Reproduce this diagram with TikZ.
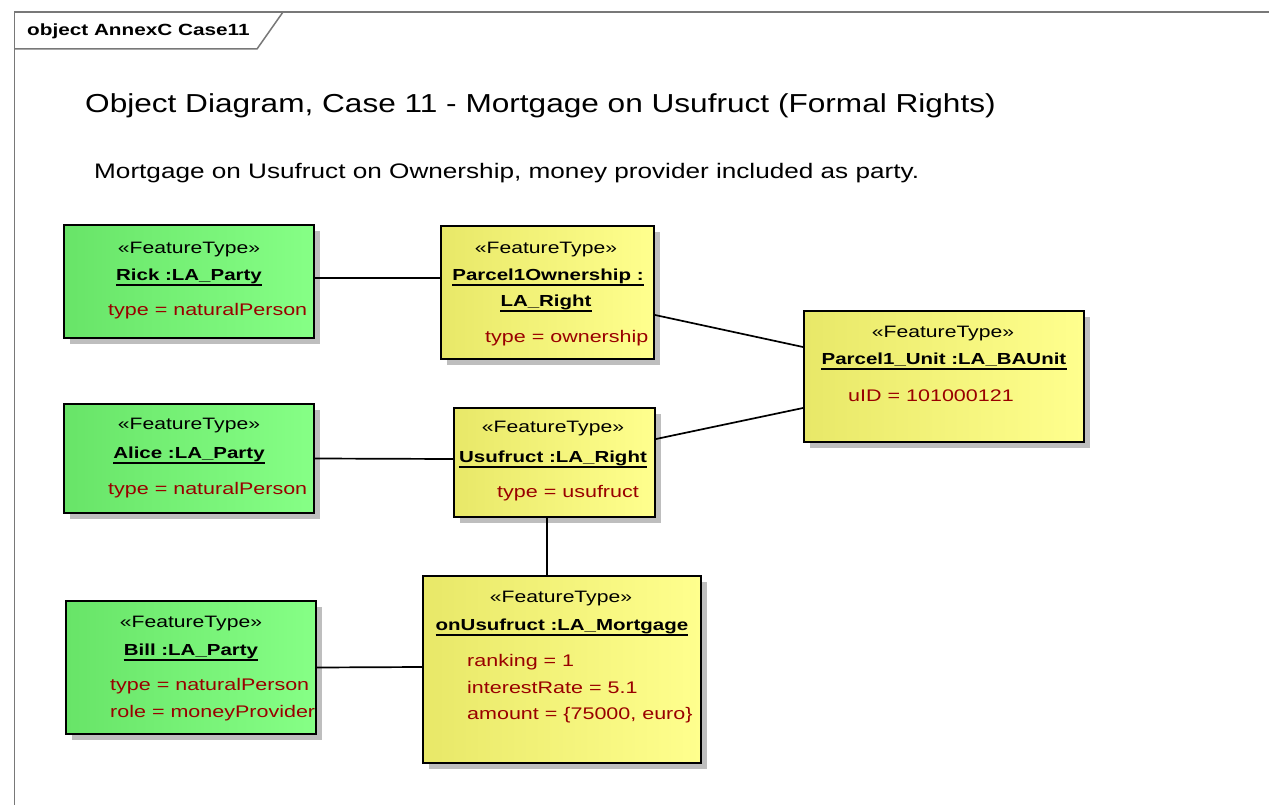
\documentclass[tikz,border=0pt]{standalone}
\usepackage{fontspec}
\setmainfont{Liberation Sans}
\usetikzlibrary{shadows}
\definecolor{attrred}{RGB}{153,0,0}
\definecolor{grnL}{RGB}{104,228,104}
\definecolor{grnM}{RGB}{124,250,124}
\definecolor{grnR}{RGB}{134,255,134}
\definecolor{ylwL}{RGB}{232,232,104}
\definecolor{ylwM}{RGB}{250,250,128}
\definecolor{ylwR}{RGB}{255,255,142}
\definecolor{framegray}{RGB}{120,120,120}
\definecolor{shadowgray}{RGB}{190,190,190}
% horizontally widened text
\newcommand\wx[1]{\scalebox{1.28}[1]{#1}}
\tikzset{
  objbox/.style={draw=black, line width=2pt, rectangle, anchor=north west, inner sep=0pt,
    drop shadow={shadow xshift=6pt, shadow yshift=-6pt, fill=shadowgray, opacity=1}},
  greenbox/.style={objbox, left color=grnL, middle color=grnM, right color=grnR},
  yellowbox/.style={objbox, left color=ylwL, middle color=ylwM, right color=ylwR},
  stereo/.style={anchor=base, inner sep=0pt, font=\fontsize{16.5}{19}\selectfont},
  objname/.style={anchor=base, inner sep=0pt, font=\fontsize{16}{19}\selectfont\bfseries},
  attrtxt/.style={anchor=base west, inner sep=0pt, text=attrred, font=\fontsize{16.8}{19}\selectfont},
  uline/.style={line width=1.6pt},
  link/.style={line width=1.7pt},
}
\begin{document}
\begin{tikzpicture}[x=1pt,y=-1pt]
\useasboundingbox[fill=white] (0,0) rectangle (1269,805);

% diagram frame and its name tab
\draw[framegray, line width=1.8pt] (14.5,805) -- (14.5,12) -- (1269,12);
\draw[framegray, line width=1.5pt] (14.5,49) -- (257,49) -- (283,12);
\node[anchor=base west, inner sep=0pt, font=\fontsize{16.2}{19}\selectfont\bfseries] (frametitle) at (27,36) {\wx{object AnnexC Case11}};

% headings
\node[anchor=base west, inner sep=0pt, font=\fontsize{26}{30}\selectfont] (title) at (85,113)
  {\scalebox{1.215}[1]{Object Diagram, Case 11 - Mortgage on Usufruct (Formal Rights)}};
\node[anchor=base west, inner sep=0pt, font=\fontsize{21}{25}\selectfont] (subtitle) at (94,179)
  {\scalebox{1.245}[1]{Mortgage on Usufruct on Ownership, money provider included as party.}};

% object boxes
\node[greenbox, minimum width=250pt, minimum height=113pt] (rick) at (63,224) {};
\node[yellowbox, minimum width=213pt, minimum height=133pt] (own) at (440,225) {};
\node[yellowbox, minimum width=280pt, minimum height=131pt] (unit) at (803,310) {};
\node[greenbox, minimum width=250pt, minimum height=109pt] (alice) at (63,403) {};
\node[yellowbox, minimum width=201pt, minimum height=109pt] (usu) at (453,407) {};
\node[greenbox, minimum width=250pt, minimum height=133pt] (bill) at (65,600) {};
\node[yellowbox, minimum width=278pt, minimum height=187pt] (mort) at (422,575) {};

% Rick
\node[stereo] (rickS) at (189,253) {\wx{«FeatureType»}};
\node[objname] (rickN) at (189,280) {\wx{Rick :LA\_Party}};
\draw[uline] ([yshift=-5pt]rickN.base west) -- ([yshift=-5pt]rickN.base east);
\node[attrtxt] (rickA) at (108,315) {\wx{type = naturalPerson}};

% Parcel1Ownership
\node[stereo] (ownS) at (546,253) {\wx{«FeatureType»}};
\node[objname] (ownN) at (548,280) {\wx{Parcel1Ownership :}};
\draw[uline] ([yshift=-5pt]ownN.base west) -- ([yshift=-5pt]ownN.base east);
\node[objname] (ownN2) at (546,306) {\wx{LA\_Right}};
\draw[uline] ([yshift=-5pt]ownN2.base west) -- ([yshift=-5pt]ownN2.base east);
\node[attrtxt] (ownA) at (485,342) {\wx{type = ownership}};

% Parcel1_Unit
\node[stereo] (unitS) at (943,337) {\wx{«FeatureType»}};
\node[objname] (unitN) at (944,364) {\wx{Parcel1\_Unit :LA\_BAUnit}};
\draw[uline] ([yshift=-5pt]unitN.base west) -- ([yshift=-5pt]unitN.base east);
\node[attrtxt] (unitA) at (848,401) {\wx{uID = 101000121}};

% Alice
\node[stereo] (aliceS) at (189,429) {\wx{«FeatureType»}};
\node[objname] (aliceN) at (189,458) {\wx{Alice :LA\_Party}};
\draw[uline] ([yshift=-5pt]aliceN.base west) -- ([yshift=-5pt]aliceN.base east);
\node[attrtxt] (aliceA) at (108,494) {\wx{type = naturalPerson}};

% Usufruct
\node[stereo] (usuS) at (553,432) {\wx{«FeatureType»}};
\node[objname] (usuN) at (553,462) {\wx{Usufruct :LA\_Right}};
\draw[uline] ([yshift=-5pt]usuN.base west) -- ([yshift=-5pt]usuN.base east);
\node[attrtxt] (usuA) at (497,497) {\wx{type = usufruct}};

% Bill
\node[stereo] (billS) at (191,627) {\wx{«FeatureType»}};
\node[objname] (billN) at (191,655) {\wx{Bill :LA\_Party}};
\draw[uline] ([yshift=-5pt]billN.base west) -- ([yshift=-5pt]billN.base east);
\node[attrtxt] (billA) at (110,690) {\wx{type = naturalPerson}};
\node[attrtxt] (billB) at (110,717) {\wx{role = moneyProvider}};

% onUsufruct mortgage
\node[stereo] (mortS) at (561,602) {\wx{«FeatureType»}};
\node[objname] (mortN) at (562,630) {\wx{onUsufruct :LA\_Mortgage}};
\draw[uline] ([yshift=-5pt]mortN.base west) -- ([yshift=-5pt]mortN.base east);
\node[attrtxt] (mortA) at (467,666) {\wx{ranking = 1}};
\node[attrtxt] (mortB) at (467,693) {\wx{interestRate = 5.1}};
\node[attrtxt] (mortC) at (467,719) {\wx{amount = \{75000, euro\}}};

% links
\draw[link] ([yshift=3.5pt]rick.east) -- ([yshift=14.5pt]own.west);
\draw[link] ([yshift=-22.5pt]own.east) -- ([yshift=29.5pt]unit.west);
\draw[link] ([yshift=23.5pt]usu.east) -- ([yshift=-31.5pt]unit.west);
\draw[link] (alice.east) -- ([yshift=3.5pt]usu.west);
\draw[link] ([xshift=-7.5pt]usu.south) -- ([xshift=-15pt]mort.north);
\draw[link] (bill.east) -- ([yshift=2.5pt]mort.west);
\end{tikzpicture}
\end{document}
